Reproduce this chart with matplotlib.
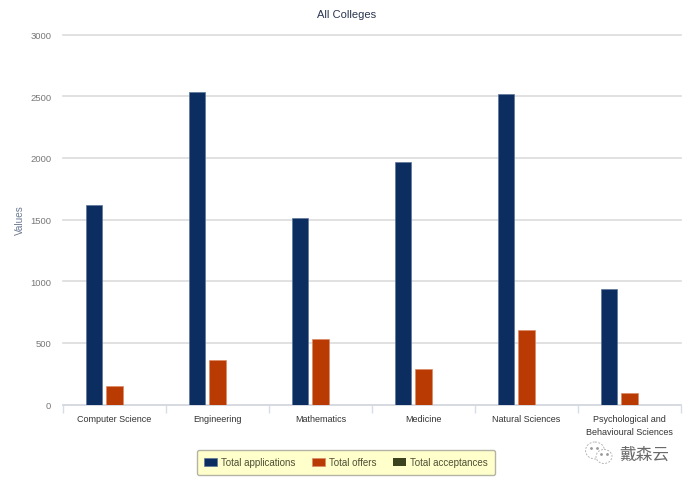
import numpy as np
import matplotlib
matplotlib.use('Agg')
from matplotlib import pyplot as plt
from matplotlib.patches import Ellipse

plt.rcParams['font.family'] = ['Liberation Sans', 'Noto Sans CJK SC', 'DejaVu Sans']

categories = ['Computer Science', 'Engineering', 'Mathematics', 'Medicine',
              'Natural Sciences', 'Psychological and\nBehavioural Sciences']
applications = [1620, 2530, 1510, 1970, 2520, 935]
offers = [150, 360, 530, 290, 605, 95]
acceptances = [0, 0, 0, 0, 0, 0]
y_ticks = [0, 500, 1000, 1500, 2000, 2500, 3000]

W, H = 692, 485
fig = plt.figure(figsize=(W / 100, H / 100), dpi=100)
ax = fig.add_axes([63 / W, 1 - 405.5 / H, 618 / W, 370 / H])

x = np.arange(len(categories))
bar_width = 0.16
offset = 0.2
ax.bar(x - offset, applications, bar_width, color='#0b2d5f', edgecolor='#5d7699', linewidth=0.5,
       label='Total applications', zorder=3)
ax.bar(x, offers, bar_width, color='#b93b03', edgecolor='#dc8a66', linewidth=0.5,
       label='Total offers', zorder=3)
ax.bar(x + offset, acceptances, bar_width, color='#3a431d', linewidth=0,
       label='Total acceptances', zorder=3)

ax.set_xlim(-0.5, len(categories) - 0.5)
ax.set_ylim(0, 3000)
ax.set_yticks(y_ticks)
ax.set_xticks(x)
ax.set_xticklabels(categories, fontsize=6.5, color='#333333', linespacing=1.6)
ax.set_xticks(np.arange(len(categories) + 1) - 0.5, minor=True)
ax.tick_params(axis='x', which='major', length=0, pad=6.5)
ax.tick_params(axis='x', which='minor', length=6, color='#d5dde8', width=1)
ax.tick_params(axis='y', length=0, pad=8.5, labelsize=6.8, labelcolor='#777777')
ax.grid(axis='y', color='#dcdcdc', linewidth=1.2, zorder=0)
for line in ax.get_ygridlines():
    line.set_clip_on(False)
for side in ['top', 'right', 'left']:
    ax.spines[side].set_visible(False)
ax.spines['bottom'].set_color('#d5d9e0')
ax.spines['bottom'].set_linewidth(1.2)

ax.set_ylabel('Values', fontsize=7.2, color='#6d7b92')
ax.yaxis.set_label_coords((25 - 63) / 618, 0.5)
fig.text(347 / W, 1 - 15 / H, 'All Colleges', fontsize=8, color='#2a3550', ha='center', va='center')

leg = ax.legend(loc='center', bbox_to_anchor=(346 / W, 1 - 463.5 / H), bbox_transform=fig.transFigure,
                ncol=3, fontsize=7, frameon=True, fancybox=True, facecolor='#ffffcc',
                edgecolor='#b4b4a4', framealpha=1, handlelength=1.34, handleheight=0.9,
                columnspacing=1.65, handletextpad=0.45, borderpad=0.75, labelcolor='#4f4f35')

# watermark
fig.text(619 / W, 1 - 455 / H, '戴森云', fontsize=12, color='#6a6a6a', ha='left', va='center')
bubbles = fig.add_axes([0, 0, 1, 1], facecolor='none')
bubbles.set_xlim(0, W)
bubbles.set_ylim(H, 0)
bubbles.axis('off')
bubbles.add_patch(Ellipse((595, 451.5), 19, 17, fill=False, ec='#b5b5b5', lw=0.7, ls=(0, (2, 1.5))))
bubbles.add_patch(Ellipse((604, 457.5), 16, 14, fc='white', ec='#b5b5b5', lw=0.7, ls=(0, (2, 1.5))))
bubbles.plot([591, 597, 601, 607], [449, 449, 455, 455], ls='none', marker='o', ms=1, color='#999999')

fig.savefig('out.png', dpi=100)
